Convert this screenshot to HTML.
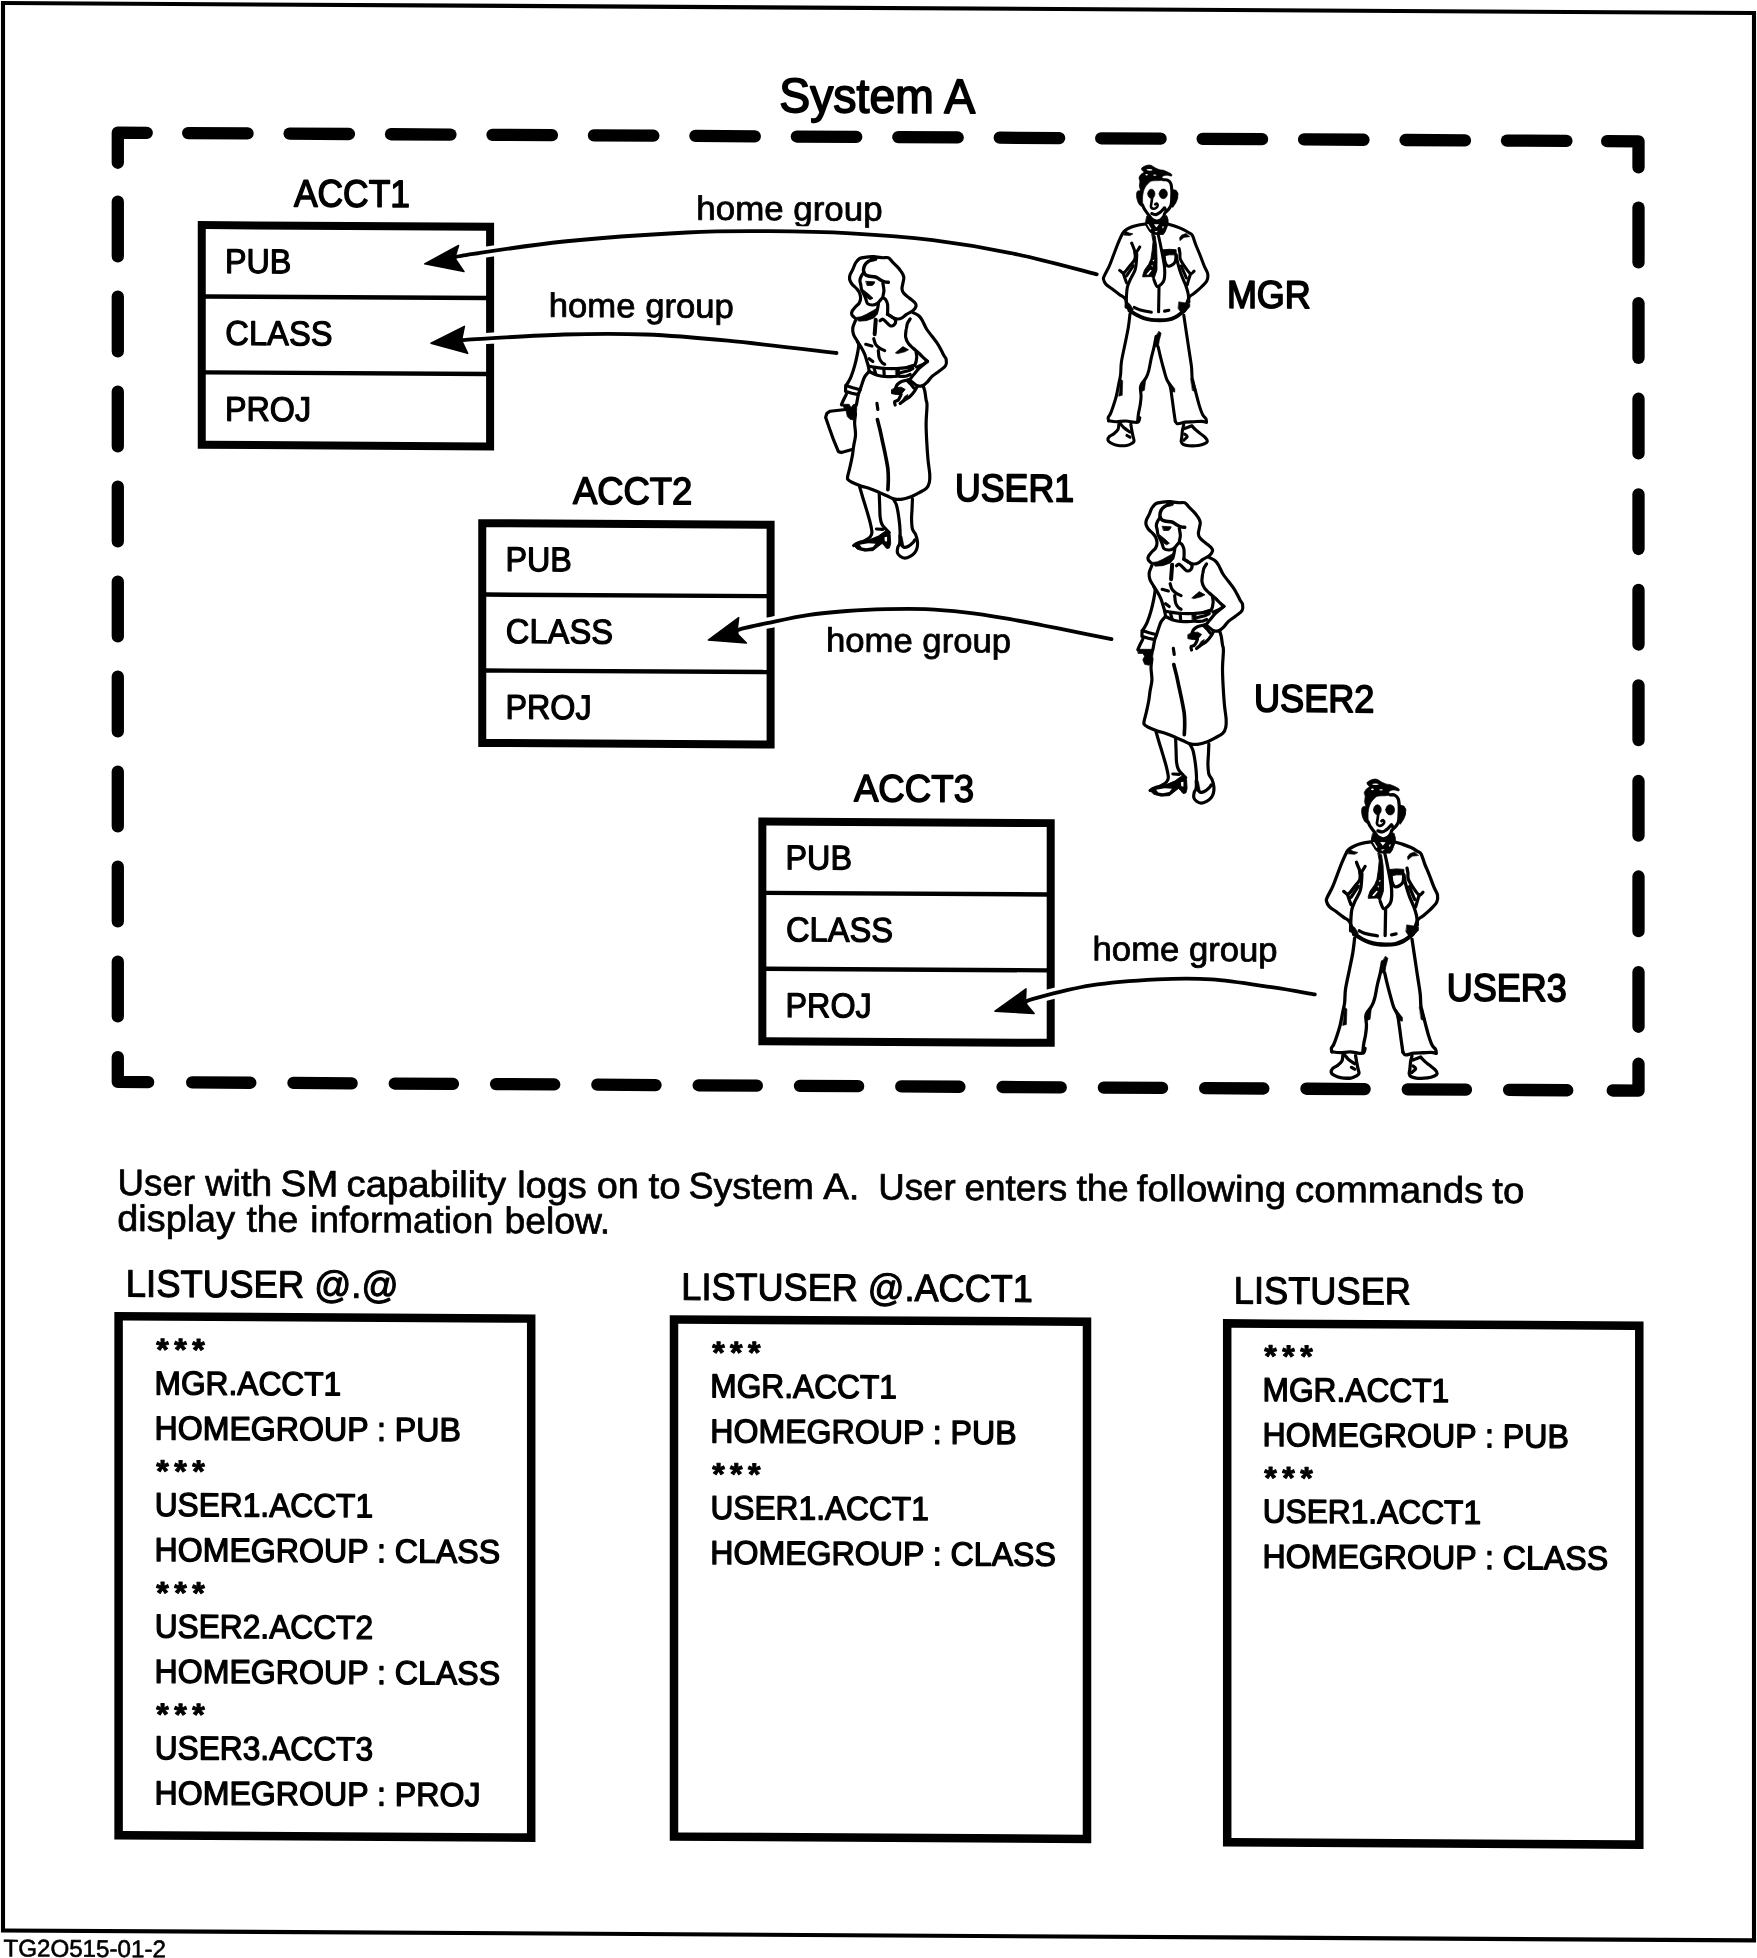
<!DOCTYPE html>
<html lang="en"><head><meta charset="utf-8"><title>System A - LISTUSER home groups</title>
<style>
html,body{margin:0;padding:0;background:#fff;}
body{width:1757px;height:1958px;overflow:hidden;}
svg{display:block;filter:grayscale(1);}
text{font-family:'Liberation Sans', sans-serif;fill:#000;stroke:#000;stroke-linejoin:round;}
</style></head><body>
<svg width="1757" height="1958" viewBox="0 0 1757 1958">
<rect width="1757" height="1958" fill="#fff"/>
<g transform="matrix(1 0.0057 0 1 0 0)">
<rect x="3" y="3" width="1751" height="1927.4" fill="none" stroke="#000" stroke-width="4.1"/>
<g stroke="#000" stroke-width="12.3" stroke-linecap="round" stroke-linejoin="round" fill="none">
<line x1="188.15" y1="132" x2="247.55" y2="132"/>
<line x1="192.15" y1="1081.3" x2="250.35" y2="1081.3"/>
<line x1="289.6" y1="132" x2="349" y2="132"/>
<line x1="293.45" y1="1081.3" x2="351.65" y2="1081.3"/>
<line x1="391.05" y1="132" x2="450.45" y2="132"/>
<line x1="394.75" y1="1081.3" x2="452.95" y2="1081.3"/>
<line x1="492.5" y1="132" x2="551.9" y2="132"/>
<line x1="496.05" y1="1081.3" x2="554.25" y2="1081.3"/>
<line x1="593.95" y1="132" x2="653.35" y2="132"/>
<line x1="597.35" y1="1081.3" x2="655.55" y2="1081.3"/>
<line x1="695.4" y1="132" x2="754.8" y2="132"/>
<line x1="698.65" y1="1081.3" x2="756.85" y2="1081.3"/>
<line x1="796.85" y1="132" x2="856.25" y2="132"/>
<line x1="799.95" y1="1081.3" x2="858.15" y2="1081.3"/>
<line x1="898.3" y1="132" x2="957.7" y2="132"/>
<line x1="901.25" y1="1081.3" x2="959.45" y2="1081.3"/>
<line x1="999.75" y1="132" x2="1059.15" y2="132"/>
<line x1="1002.55" y1="1081.3" x2="1060.75" y2="1081.3"/>
<line x1="1101.2" y1="132" x2="1160.6" y2="132"/>
<line x1="1103.85" y1="1081.3" x2="1162.05" y2="1081.3"/>
<line x1="1202.65" y1="132" x2="1262.05" y2="132"/>
<line x1="1205.15" y1="1081.3" x2="1263.35" y2="1081.3"/>
<line x1="1304.1" y1="132" x2="1363.5" y2="132"/>
<line x1="1306.45" y1="1081.3" x2="1364.65" y2="1081.3"/>
<line x1="1405.55" y1="132" x2="1464.95" y2="132"/>
<line x1="1407.75" y1="1081.3" x2="1465.95" y2="1081.3"/>
<line x1="1507" y1="132" x2="1566.4" y2="132"/>
<line x1="1509.05" y1="1081.3" x2="1567.25" y2="1081.3"/>
<line x1="117.8" y1="200.98" x2="117.8" y2="255.68"/>
<line x1="1638.5" y1="198.31" x2="1638.5" y2="253.01"/>
<line x1="117.8" y1="295.98" x2="117.8" y2="350.68"/>
<line x1="1638.5" y1="293.86" x2="1638.5" y2="348.56"/>
<line x1="117.8" y1="390.98" x2="117.8" y2="445.68"/>
<line x1="1638.5" y1="389.41" x2="1638.5" y2="444.11"/>
<line x1="117.8" y1="485.98" x2="117.8" y2="540.68"/>
<line x1="1638.5" y1="484.96" x2="1638.5" y2="539.66"/>
<line x1="117.8" y1="580.98" x2="117.8" y2="635.68"/>
<line x1="1638.5" y1="580.51" x2="1638.5" y2="635.21"/>
<line x1="117.8" y1="675.98" x2="117.8" y2="730.68"/>
<line x1="1638.5" y1="676.06" x2="1638.5" y2="730.76"/>
<line x1="117.8" y1="770.98" x2="117.8" y2="825.68"/>
<line x1="1638.5" y1="771.61" x2="1638.5" y2="826.31"/>
<line x1="117.8" y1="865.98" x2="117.8" y2="920.68"/>
<line x1="1638.5" y1="867.16" x2="1638.5" y2="921.86"/>
<line x1="117.8" y1="960.98" x2="117.8" y2="1015.68"/>
<line x1="1638.5" y1="962.71" x2="1638.5" y2="1017.41"/>
<polyline points="146.75,132 117.8,132 117.8,162.08"/>
<polyline points="1607.15,132 1638.5,132 1638.5,158.01"/>
<polyline points="148.15,1081.3 117.8,1081.3 117.8,1056.48"/>
<polyline points="1612.75,1081.3 1638.5,1081.3 1638.5,1054.41"/>
</g>
<text transform="translate(779.23 107.59) scale(0.9565 1)" font-size="48.5" stroke-width="1.7" xml:space="preserve">System A</text>
<g transform="translate(0 0)">
<rect x="201.75" y="223.95" width="288.35" height="219.7" fill="none" stroke="#000" stroke-width="8"/>
<line x1="205" y1="295.28" x2="487" y2="295.28" stroke="#000" stroke-width="4.4" stroke-linecap="butt"/>
<line x1="205" y1="371.18" x2="487" y2="371.18" stroke="#000" stroke-width="4.4" stroke-linecap="butt"/>
<text transform="translate(224.98 271.63) scale(0.9362 1)" font-size="34.5" stroke-width="1.2" xml:space="preserve">PUB</text>
<text transform="translate(225.33 343.51) scale(0.9476 1)" font-size="34.5" stroke-width="1.2" xml:space="preserve">CLASS</text>
<text transform="translate(224.98 419.37) scale(0.9363 1)" font-size="34.5" stroke-width="1.2" xml:space="preserve">PROJ</text>
<text transform="translate(293.89 204.73) scale(0.9250 1)" font-size="38.3" stroke-width="1.5" xml:space="preserve">ACCT1</text>
</g>
<g transform="translate(280.5 296.5)">
<rect x="201.75" y="223.95" width="288.35" height="219.7" fill="none" stroke="#000" stroke-width="8"/>
<line x1="205" y1="295.28" x2="487" y2="295.28" stroke="#000" stroke-width="4.4" stroke-linecap="butt"/>
<line x1="205" y1="371.18" x2="487" y2="371.18" stroke="#000" stroke-width="4.4" stroke-linecap="butt"/>
<text transform="translate(224.98 271.63) scale(0.9362 1)" font-size="34.5" stroke-width="1.2" xml:space="preserve">PUB</text>
<text transform="translate(225.33 343.51) scale(0.9476 1)" font-size="34.5" stroke-width="1.2" xml:space="preserve">CLASS</text>
<text transform="translate(224.98 419.37) scale(0.9363 1)" font-size="34.5" stroke-width="1.2" xml:space="preserve">PROJ</text>
<text transform="translate(292.41 204) scale(0.9519 1)" font-size="38.3" stroke-width="1.5" xml:space="preserve">ACCT2</text>
</g>
<g transform="translate(560.6 593.2)">
<rect x="201.75" y="223.95" width="288.35" height="219.7" fill="none" stroke="#000" stroke-width="8"/>
<line x1="205" y1="295.28" x2="487" y2="295.28" stroke="#000" stroke-width="4.4" stroke-linecap="butt"/>
<line x1="205" y1="371.18" x2="487" y2="371.18" stroke="#000" stroke-width="4.4" stroke-linecap="butt"/>
<text transform="translate(224.98 271.63) scale(0.9362 1)" font-size="34.5" stroke-width="1.2" xml:space="preserve">PUB</text>
<text transform="translate(225.33 343.51) scale(0.9476 1)" font-size="34.5" stroke-width="1.2" xml:space="preserve">CLASS</text>
<text transform="translate(224.98 419.37) scale(0.9363 1)" font-size="34.5" stroke-width="1.2" xml:space="preserve">PROJ</text>
<text transform="translate(293.32 203.19) scale(0.9569 1)" font-size="38.3" stroke-width="1.5" xml:space="preserve">ACCT3</text>
</g>
<text transform="translate(1226.91 300.66) scale(0.9272 1)" font-size="38.8" stroke-width="1.7" xml:space="preserve">MGR</text>
<text transform="translate(955.05 495.55) scale(0.9200 1)" font-size="38.8" stroke-width="1.7" xml:space="preserve">USER1</text>
<text transform="translate(1253.98 704.41) scale(0.9307 1)" font-size="38.8" stroke-width="1.7" xml:space="preserve">USER2</text>
<text transform="translate(1446.79 992.41) scale(0.9279 1)" font-size="38.8" stroke-width="1.7" xml:space="preserve">USER3</text>
<text transform="translate(696.37 215.7) scale(1.0327 1)" font-size="33.8" stroke-width="0.8" xml:space="preserve">home group</text>
<text transform="translate(548.78 313.64) scale(1.0259 1)" font-size="33.8" stroke-width="0.8" xml:space="preserve">home group</text>
<text transform="translate(825.88 646.81) scale(1.0270 1)" font-size="33.8" stroke-width="0.8" xml:space="preserve">home group</text>
<text transform="translate(1092.58 954.09) scale(1.0259 1)" font-size="33.8" stroke-width="0.8" xml:space="preserve">home group</text>
<text y="1194.4" font-size="36.8" stroke-width="0.7"><tspan x="117.6" textLength="77.45" lengthAdjust="spacingAndGlyphs">User</tspan> <tspan x="205.35" textLength="66.97" lengthAdjust="spacingAndGlyphs">with</tspan> <tspan x="280.62" textLength="57.81" lengthAdjust="spacingAndGlyphs">SM</tspan> <tspan x="346.52" textLength="159.6" lengthAdjust="spacingAndGlyphs">capability</tspan> <tspan x="517.18" textLength="69.68" lengthAdjust="spacingAndGlyphs">logs</tspan> <tspan x="596.64" textLength="42.06" lengthAdjust="spacingAndGlyphs">on</tspan> <tspan x="648.57" textLength="32.08" lengthAdjust="spacingAndGlyphs">to</tspan> <tspan x="688.46" textLength="125.4" lengthAdjust="spacingAndGlyphs">System</tspan> <tspan x="823.25" textLength="36.24" lengthAdjust="spacingAndGlyphs">A.</tspan> <tspan x="878.2" textLength="77.45" lengthAdjust="spacingAndGlyphs">User</tspan> <tspan x="964.47" textLength="102.75" lengthAdjust="spacingAndGlyphs">enters</tspan> <tspan x="1076.39" textLength="52.26" lengthAdjust="spacingAndGlyphs">the</tspan> <tspan x="1136.87" textLength="149.22" lengthAdjust="spacingAndGlyphs">following</tspan> <tspan x="1295.01" textLength="188.32" lengthAdjust="spacingAndGlyphs">commands</tspan> <tspan x="1492.37" textLength="32.08" lengthAdjust="spacingAndGlyphs">to</tspan></text>
<text y="1230.2" font-size="36.8" stroke-width="0.7"><tspan x="117.34" textLength="117.73" lengthAdjust="spacingAndGlyphs">display</tspan> <tspan x="246.39" textLength="51.95" lengthAdjust="spacingAndGlyphs">the</tspan> <tspan x="310.25" textLength="182.98" lengthAdjust="spacingAndGlyphs">information</tspan> <tspan x="504.42" textLength="105.8" lengthAdjust="spacingAndGlyphs">below.</tspan></text>
<text transform="translate(125.81 1295.87) scale(0.9553 1)" font-size="38.2" stroke-width="1.1" xml:space="preserve">LISTUSER @.@</text>
<text transform="translate(681.33 1295.9) scale(0.9450 1)" font-size="38.2" stroke-width="1.1" xml:space="preserve">LISTUSER @.ACCT1</text>
<text transform="translate(1233.82 1296.45) scale(0.9485 1)" font-size="38.2" stroke-width="1.1" xml:space="preserve">LISTUSER</text>
<rect x="118.6" y="1315.62" width="412.6" height="519" fill="none" stroke="#000" stroke-width="8.5"/>
<text transform="translate(156.33 1359.11) scale(0.7483 0.72)" font-size="43" font-weight="bold" stroke-width="1.3" letter-spacing="7.32">***</text>
<text transform="translate(154.48 1393.51) scale(0.9550 1)" font-size="33.2" stroke-width="1.3" xml:space="preserve">MGR.ACCT1</text>
<text transform="translate(154.46 1438.61) scale(0.9680 1)" font-size="33.2" stroke-width="1.3" xml:space="preserve">HOMEGROUP : PUB</text>
<text transform="translate(156.33 1480.71) scale(0.7483 0.72)" font-size="43" font-weight="bold" stroke-width="1.3" letter-spacing="7.32">***</text>
<text transform="translate(154.64 1515.11) scale(0.9550 1)" font-size="33.2" stroke-width="1.3" xml:space="preserve">USER1.ACCT1</text>
<text transform="translate(154.46 1560.21) scale(0.9680 1)" font-size="33.2" stroke-width="1.3" xml:space="preserve">HOMEGROUP : CLASS</text>
<text transform="translate(156.33 1602.31) scale(0.7483 0.72)" font-size="43" font-weight="bold" stroke-width="1.3" letter-spacing="7.32">***</text>
<text transform="translate(154.64 1636.71) scale(0.9550 1)" font-size="33.2" stroke-width="1.3" xml:space="preserve">USER2.ACCT2</text>
<text transform="translate(154.46 1681.81) scale(0.9680 1)" font-size="33.2" stroke-width="1.3" xml:space="preserve">HOMEGROUP : CLASS</text>
<text transform="translate(156.33 1723.91) scale(0.7483 0.72)" font-size="43" font-weight="bold" stroke-width="1.3" letter-spacing="7.32">***</text>
<text transform="translate(154.64 1758.31) scale(0.9550 1)" font-size="33.2" stroke-width="1.3" xml:space="preserve">USER3.ACCT3</text>
<text transform="translate(154.46 1803.41) scale(0.9680 1)" font-size="33.2" stroke-width="1.3" xml:space="preserve">HOMEGROUP : PROJ</text>
<rect x="674" y="1315.56" width="413" height="517.2" fill="none" stroke="#000" stroke-width="8.5"/>
<text transform="translate(712.13 1358.84) scale(0.7483 0.72)" font-size="43" font-weight="bold" stroke-width="1.3" letter-spacing="7.32">***</text>
<text transform="translate(710.28 1393.24) scale(0.9550 1)" font-size="33.2" stroke-width="1.3" xml:space="preserve">MGR.ACCT1</text>
<text transform="translate(710.26 1438.34) scale(0.9680 1)" font-size="33.2" stroke-width="1.3" xml:space="preserve">HOMEGROUP : PUB</text>
<text transform="translate(712.13 1480.44) scale(0.7483 0.72)" font-size="43" font-weight="bold" stroke-width="1.3" letter-spacing="7.32">***</text>
<text transform="translate(710.44 1514.84) scale(0.9550 1)" font-size="33.2" stroke-width="1.3" xml:space="preserve">USER1.ACCT1</text>
<text transform="translate(710.26 1559.94) scale(0.9680 1)" font-size="33.2" stroke-width="1.3" xml:space="preserve">HOMEGROUP : CLASS</text>
<rect x="1227.2" y="1316.4" width="412.1" height="518.9" fill="none" stroke="#000" stroke-width="8.5"/>
<text transform="translate(1264.33 1359.39) scale(0.7483 0.72)" font-size="43" font-weight="bold" stroke-width="1.3" letter-spacing="7.32">***</text>
<text transform="translate(1262.48 1393.79) scale(0.9550 1)" font-size="33.2" stroke-width="1.3" xml:space="preserve">MGR.ACCT1</text>
<text transform="translate(1262.46 1438.89) scale(0.9680 1)" font-size="33.2" stroke-width="1.3" xml:space="preserve">HOMEGROUP : PUB</text>
<text transform="translate(1264.33 1480.99) scale(0.7483 0.72)" font-size="43" font-weight="bold" stroke-width="1.3" letter-spacing="7.32">***</text>
<text transform="translate(1262.64 1515.39) scale(0.9550 1)" font-size="33.2" stroke-width="1.3" xml:space="preserve">USER1.ACCT1</text>
<text transform="translate(1262.46 1560.49) scale(0.9680 1)" font-size="33.2" stroke-width="1.3" xml:space="preserve">HOMEGROUP : CLASS</text>
<text transform="translate(3.42 1956.4) scale(0.9984 1)" font-size="24.2" stroke-width="0.6" xml:space="preserve">TG2O515-01-2</text>
<path d="M454.7 255.41 C455.83 255.04 443.3 256.02 461.5 253.17 C479.7 250.32 526.33 242.38 563.9 238.29 C601.47 234.19 652.75 230.5 686.9 228.58 C721.05 226.67 741.48 226.84 768.8 226.82 C796.12 226.8 823.47 227.11 850.8 228.45 C878.13 229.79 905.48 231.62 932.8 234.88 C960.12 238.14 987.38 242.49 1014.7 248.02 C1042.02 253.54 1083.03 264.71 1096.7 268.05" fill="none" stroke="#fff" stroke-width="11" stroke-linecap="butt"/>
<path d="M454.7 255.41 C455.83 255.04 443.3 256.02 461.5 253.17 C479.7 250.32 526.33 242.38 563.9 238.29 C601.47 234.19 652.75 230.5 686.9 228.58 C721.05 226.67 741.48 226.84 768.8 226.82 C796.12 226.8 823.47 227.11 850.8 228.45 C878.13 229.79 905.48 231.62 932.8 234.88 C960.12 238.14 987.38 242.49 1014.7 248.02 C1042.02 253.54 1083.03 264.71 1096.7 268.05" fill="none" stroke="#000" stroke-width="3.8" stroke-linecap="round"/>
<path d="M424.7 261.38 L458.6 242.89 L454.7 255.41 L464 268.96 Z" fill="#000" stroke="#000" stroke-width="1.5" stroke-linejoin="round"/>
<path d="M461.5 337.67 C462.18 337.58 448.53 338.21 465.6 337.15 C482.67 336.08 533.85 332.34 563.9 331.29 C593.95 330.23 618.57 329.94 645.9 330.82 C673.23 331.7 696.13 333.65 727.9 336.55 C759.67 339.45 818.4 346.29 836.5 348.23" fill="none" stroke="#fff" stroke-width="11" stroke-linecap="butt"/>
<path d="M461.5 337.67 C462.18 337.58 448.53 338.21 465.6 337.15 C482.67 336.08 533.85 332.34 563.9 331.29 C593.95 330.23 618.57 329.94 645.9 330.82 C673.23 331.7 696.13 333.65 727.9 336.55 C759.67 339.45 818.4 346.29 836.5 348.23" fill="none" stroke="#000" stroke-width="3.8" stroke-linecap="round"/>
<path d="M431 340.74 L464.4 323.75 L461.5 337.67 L467.7 350.73 Z" fill="#000" stroke="#000" stroke-width="1.5" stroke-linejoin="round"/>
<path d="M736.7 629 C737.2 628.36 734.4 626.95 739.7 625.18 C745 623.42 757.15 620.88 768.5 618.42 C779.85 615.95 794.7 612.44 807.8 610.4 C820.9 608.35 834 607.21 847.1 606.17 C860.2 605.13 873.32 604.52 886.4 604.15 C899.48 603.77 912.52 603.47 925.6 603.92 C938.68 604.38 951.8 605.49 964.9 606.9 C978 608.31 991.12 610.27 1004.2 612.38 C1017.28 614.48 1030.32 617.09 1043.4 619.55 C1056.48 622.01 1071.35 624.93 1082.7 627.13 C1094.05 629.33 1106.7 631.83 1111.5 632.76" fill="none" stroke="#fff" stroke-width="11" stroke-linecap="butt"/>
<path d="M736.7 629 C737.2 628.36 734.4 626.95 739.7 625.18 C745 623.42 757.15 620.88 768.5 618.42 C779.85 615.95 794.7 612.44 807.8 610.4 C820.9 608.35 834 607.21 847.1 606.17 C860.2 605.13 873.32 604.52 886.4 604.15 C899.48 603.77 912.52 603.47 925.6 603.92 C938.68 604.38 951.8 605.49 964.9 606.9 C978 608.31 991.12 610.27 1004.2 612.38 C1017.28 614.48 1030.32 617.09 1043.4 619.55 C1056.48 622.01 1071.35 624.93 1082.7 627.13 C1094.05 629.33 1106.7 631.83 1111.5 632.76" fill="none" stroke="#000" stroke-width="3.8" stroke-linecap="round"/>
<path d="M708.3 635.96 L738.7 613.49 L736.7 629 L746.4 638.65 Z" fill="#000" stroke="#000" stroke-width="1.5" stroke-linejoin="round"/>
<path d="M1025.4 997.06 C1026.82 996.33 1022.97 995.69 1033.9 992.71 C1044.83 989.73 1070.45 982.5 1091 979.18 C1111.55 975.86 1137.15 973.92 1157.2 972.8 C1177.25 971.69 1192.25 971.3 1211.3 972.5 C1230.35 973.69 1254.25 977.55 1271.5 979.95 C1288.75 982.35 1307.58 985.75 1314.8 986.91" fill="none" stroke="#fff" stroke-width="11" stroke-linecap="butt"/>
<path d="M1025.4 997.06 C1026.82 996.33 1022.97 995.69 1033.9 992.71 C1044.83 989.73 1070.45 982.5 1091 979.18 C1111.55 975.86 1137.15 973.92 1157.2 972.8 C1177.25 971.69 1192.25 971.3 1211.3 972.5 C1230.35 973.69 1254.25 977.55 1271.5 979.95 C1288.75 982.35 1307.58 985.75 1314.8 986.91" fill="none" stroke="#000" stroke-width="3.8" stroke-linecap="round"/>
<path d="M995 1005.53 L1026 983.05 L1025.4 997.06 L1034.1 1007.61 Z" fill="#000" stroke="#000" stroke-width="1.5" stroke-linejoin="round"/>
<defs><g id="man" fill="none" stroke="#000" stroke-width="36" stroke-linecap="round" stroke-linejoin="round">
<path d="M740 135 C746.67 126.67 765.83 115.83 780 110 C794.17 104.17 811.67 100 825 100 C838.33 100 847.5 104.17 860 110 C872.5 115.83 885 127.5 900 135 C915 142.5 935 150.83 950 155 C965 159.17 975 155.83 990 160 C1005 164.17 1024.17 172.5 1040 180 C1055.83 187.5 1077.5 197 1085 205 C1092.5 213 1092.5 225.83 1085 228 C1077.5 230.17 1053.33 219 1040 218 C1026.67 217 1015.83 218.33 1005 222 C994.17 225.67 977.5 231.67 975 240 C972.5 248.33 995.83 265 990 272 C984.17 279 963.33 279.33 940 282 C916.67 284.67 871.67 281.67 850 288 C828.33 294.33 822 308 810 320 C798 332 786.67 345 778 360 C769.33 375 763 391.67 758 410 C753 428.33 749.67 448.33 748 470 C746.33 491.67 747.33 521.33 748 540 C748.67 558.67 756.67 576.17 752 582 C747.33 587.83 730 583.67 720 575 C710 566.33 699.33 549.17 692 530 C684.67 510.83 677 480 676 460 C675 440 678.67 420.83 686 410 C693.33 399.17 716 405 720 395 C724 385 710.67 367.5 710 350 C709.33 332.5 716.67 306.67 716 290 C715.33 273.33 703.67 263.33 706 250 C708.33 236.67 720.67 220.83 730 210 C739.33 199.17 760.33 193.33 762 185 C763.67 176.67 743.67 168.33 740 160 C736.33 151.67 733.33 143.33 740 135 Z" fill="#000" stroke-width="8"/>
<path d="M1090 385 L1140 395 L1162 430 L1157 490 L1137 540 L1100 595 L1085 560 L1090 480 Z" fill="#000" stroke-width="10"/>
<path d="M808 437 a42 54 0 1 0 84 0 a42 54 0 1 0 -84 0 Z" fill="#000" stroke-width="8"/>
<path d="M942 437 a48 56 0 1 0 96 0 a48 56 0 1 0 -96 0 Z" fill="#000" stroke-width="8"/>
<path d="M800 700 L830 705 L860 740 L910 758 L960 742 L995 702 L1030 692 L1046 740 L1046 792 L1012 880 L990 912 L870 912 L830 880 L780 800 L786 750 Z" fill="#000" stroke-width="10"/>
<path d="M858 912 L895 930 L912 1050 L917 1200 L916 1330 L892 1400 L880 1440 L850 1405 L750 1410 L750 1390 L770 1330 L820 1260 L845 1200 L860 1100 L870 1000 Z" fill="#000" stroke-width="10"/>
<path d="M985 1092 L1060 1085 L1140 1090 L1142 1150 L1110 1150 L1060 1150 L1000 1162 L990 1130 Z" fill="#000" stroke-width="10"/>
<path d="M540 872 L590 897 L635 907 L600 927 L530 922 Z" fill="#000" stroke-width="8"/>
<path d="M1255 898 L1205 918 L1180 950 L1185 985 L1232 945 L1300 937 Z" fill="#000" stroke-width="6"/>
<path d="M1175 1700 L1300 1720 L1300 1757 L1245 1817 L1195 1819 L1165 1777 Z" fill="#000" stroke-width="8"/>
<path d="M548 1700 L600 1730 L640 1797 L600 1819 L560 1777 Z" fill="#000" stroke-width="8"/>
<path d="M940 2047 L965 2067 L942 2157 L932 2227 L897 2227 L902 2107 Z" fill="#000" stroke-width="8"/>
<path d="M490 2607 L515 2627 L510 2797 L470 2807 Z" fill="#000" stroke-width="6"/>
<path d="M790 2587 L722 2697 L726 2757 L770 2737 L782 2637 Z" fill="#000" stroke-width="6"/>
<path d="M1040 2607 L1125 2717 L1125 2757 L1080 2747 Z" fill="#000" stroke-width="6"/>
<path d="M1312 2597 L1346 2607 L1382 2757 L1332 2737 Z" fill="#000" stroke-width="6"/>
<path d="M792 157 a36 9 0 1 0 72 0 a36 9 0 1 0 -72 0 Z" fill="#fff" stroke="none"/>
<path d="M780 214 a15 9 0 1 0 30 0 a15 9 0 1 0 -30 0 Z" fill="#fff" stroke="none"/>
<path d="M870 217 a20 7 0 1 0 40 0 a20 7 0 1 0 -40 0 Z" fill="#fff" stroke="none"/>
<path d="M800 792 L815 790 L852 848 L838 856 Z" fill="#fff" stroke="none"/>
<path d="M880 792 L940 792 L910 832 Z" fill="#fff" stroke="none"/>
<path d="M975 822 L1000 815 L985 845 Z" fill="#fff" stroke="none"/>
<path d="M888 876 L930 868 L905 888 Z" fill="#fff" stroke="none"/>
<path d="M862 1218 L885 1205 L880 1230 Z" fill="#fff" stroke="none"/>
<path d="M792 1378 L840 1325 L855 1335 L812 1388 Z" fill="#fff" stroke="none"/>
<path d="M850 1275 L866 1268 L862 1295 Z" fill="#fff" stroke="none"/>
<path d="M990 272 C998.33 272.5 1025.33 267.83 1040 275 C1054.67 282.17 1069.67 294.17 1078 315 C1086.33 335.83 1088.33 369.17 1090 400 C1091.67 430.83 1089.67 471.67 1088 500 C1086.33 528.33 1086.33 550 1080 570 C1073.67 590 1061.67 605 1050 620 C1038.33 635 1019.17 646.67 1010 660 C1000.83 673.33 1003.33 686.67 995 700 C986.67 713.33 974.17 730.83 960 740 C945.83 749.17 926.67 755.83 910 755 C893.33 754.17 873.33 744.17 860 735 C846.67 725.83 840 712.5 830 700 C820 687.5 810.83 675 800 660 C789.17 645 773.67 625 765 610 C756.33 595 750.83 576.67 748 570"/>
<path d="M860 480 C858.67 490 854.33 521.67 852 540 C849.67 558.33 843 578 846 590 C849 602 860.17 610 870 612 C879.83 614 895.83 608.17 905 602 C914.17 595.83 923.83 583.67 925 575 C926.17 566.33 917 552.5 912 550 C907 547.5 897.83 558.33 895 560" stroke-width="30"/>
<path d="M855 668 C863.33 670 889.17 682.17 905 680 C920.83 677.83 936.67 664.67 950 655 C963.33 645.33 975.83 631.17 985 622 C994.17 612.83 999.67 600 1005 600 C1010.33 600 1015 618.33 1017 622"/>
<path d="M775 790 C760.83 792.5 717.5 798.33 690 805 C662.5 811.67 635 819.17 610 830 C585 840.83 556.67 856.67 540 870 C523.33 883.33 523.33 885 510 910 C496.67 935 476.67 980 460 1020 C443.33 1060 426.67 1106.67 410 1150 C393.33 1193.33 378.33 1238.33 360 1280 C341.67 1321.67 311.67 1373.33 300 1400 C288.33 1426.67 286.67 1423.33 290 1440 C293.33 1456.67 301.67 1480 320 1500 C338.33 1520 373.33 1540 400 1560 C426.67 1580 455.83 1601.67 480 1620 C504.17 1638.33 526.67 1638.83 545 1670 C563.33 1701.17 582.5 1784.17 590 1807"/>
<path d="M1045 790 C1059.17 794.17 1100.83 805 1130 815 C1159.17 825 1193.33 837.5 1220 850 C1246.67 862.5 1271.67 878.33 1290 890 C1308.33 901.67 1316.67 896.67 1330 920 C1343.33 943.33 1355 991.67 1370 1030 C1385 1068.33 1403.33 1108.33 1420 1150 C1436.67 1191.67 1455 1243.33 1470 1280 C1485 1316.67 1505 1341.67 1510 1370 C1515 1398.33 1513.33 1423.33 1500 1450 C1486.67 1476.67 1455 1505 1430 1530 C1405 1555 1373.33 1580 1350 1600 C1326.67 1620 1308.33 1617.17 1290 1650 C1271.67 1682.83 1248.33 1772.5 1240 1797"/>
<path d="M620 1015 C623.67 1024.17 636.17 1054.17 642 1070 C647.83 1085.83 652.33 1088.33 655 1110 C657.67 1131.67 667.17 1171.67 658 1200 C648.83 1228.33 618.83 1255 600 1280 C581.17 1305 558.33 1335.83 545 1350 C531.67 1364.17 530.83 1367.5 520 1365 C509.17 1362.5 486.67 1340 480 1335"/>
<path d="M715 1060 C709.17 1069.17 689.17 1103.33 680 1115 C670.83 1126.67 663.33 1127.5 660 1130"/>
<path d="M520 1365 C524.17 1377.5 538.33 1420.83 545 1440 C551.67 1459.17 557.5 1473.33 560 1480"/>
<path d="M680 1140 C679.17 1155 678.33 1198.33 675 1230 C671.67 1261.67 672.5 1293.33 660 1330 C647.5 1366.67 615 1416.67 600 1450 C585 1483.33 576.67 1501.67 570 1530 C563.33 1558.33 562.5 1580.5 560 1620 C557.5 1659.5 555.83 1742.5 555 1767"/>
<path d="M640 1280 L560 1400"/>
<path d="M1175 1075 C1176.67 1084.17 1182.5 1109.17 1185 1130 C1187.5 1150.83 1179.17 1171.67 1190 1200 C1200.83 1228.33 1230 1271.67 1250 1300 C1270 1328.33 1293.33 1363.33 1310 1370 C1326.67 1376.67 1343.33 1345 1350 1340"/>
<path d="M1310 1370 C1306.67 1380 1296.67 1408.33 1290 1430 C1283.33 1451.67 1273.33 1488.33 1270 1500"/>
<path d="M1140 1150 C1143.33 1166.67 1150 1211.67 1160 1250 C1170 1288.33 1185 1338.33 1200 1380 C1215 1421.67 1236.67 1463.33 1250 1500 C1263.33 1536.67 1273.33 1566.67 1280 1600 C1286.67 1633.33 1288.33 1683.33 1290 1700"/>
<path d="M1200 1280 L1260 1420"/>
<path d="M1000 1160 C1001.67 1171.67 1003.33 1210 1010 1230 C1016.67 1250 1026.67 1273.33 1040 1280 C1053.33 1286.67 1075 1278.33 1090 1270 C1105 1261.67 1121.67 1250 1130 1230 C1138.33 1210 1138.33 1163.33 1140 1150"/>
<path d="M930 912 C933.33 926.67 941.67 960.33 950 1000 C958.33 1039.67 970.83 1100 980 1150 C989.17 1200 1001.67 1251.67 1005 1300 C1008.33 1348.33 1007.5 1406.67 1000 1440 C992.5 1473.33 974.17 1486.67 960 1500 C945.83 1513.33 928.33 1530 915 1520 C901.67 1510 885.83 1453.33 880 1440"/>
<path d="M940 1530 L935 1817"/>
<path d="M600 1807 C613.33 1815.33 653.33 1842.83 680 1857 C706.67 1871.17 731.67 1882.83 760 1892 C788.33 1901.17 818.33 1907.83 850 1912 C881.67 1916.17 916.67 1917.5 950 1917 C983.33 1916.5 1020 1915.33 1050 1909 C1080 1902.67 1106.67 1890.67 1130 1879 C1153.33 1867.33 1171.67 1852.67 1190 1839 C1208.33 1825.33 1231.67 1804 1240 1797" stroke-width="46"/>
<path d="M650 1767 C661.67 1772 686.67 1787.83 720 1797 C753.33 1806.17 828.33 1817.83 850 1822"/>
<path d="M1005 1809 L1055 1799"/>
<path d="M600 1847 C596.67 1873.67 590 1947 580 2007 C570 2067 553.33 2140.33 540 2207 C526.67 2273.67 508.33 2348.67 500 2407 C491.67 2465.33 495 2515.33 490 2557 C485 2598.67 478.33 2615.33 470 2657 C461.67 2698.67 451.67 2760.33 440 2807 C428.33 2853.67 411.67 2902 400 2937 C388.33 2972 379.17 2997 370 3017 C360.83 3037 348.33 3043.67 345 3057 C341.67 3070.33 349.17 3090.33 350 3097"/>
<path d="M350 3097 C365 3098.67 406.67 3107 440 3107 C473.33 3107 515 3096.17 550 3097 C585 3097.83 625 3110.33 650 3112 C675 3113.67 689.17 3116.17 700 3107 C710.83 3097.83 712.5 3065.33 715 3057"/>
<path d="M905 2107 C900.83 2128.67 889.17 2195.33 880 2237 C870.83 2278.67 860 2312 850 2357 C840 2402 830 2468.67 820 2507 C810 2545.33 803.33 2562 790 2587 C776.67 2612 751.33 2637 740 2657 C728.67 2677 723.67 2682 722 2707 C720.33 2732 730.33 2773.67 730 2807 C729.67 2840.33 725 2873.67 720 2907 C715 2940.33 705 2975.33 700 3007 C695 3038.67 691.67 3082 690 3097"/>
<path d="M930 2227 C935 2248.67 948.33 2310.33 960 2357 C971.67 2403.67 988.33 2465.33 1000 2507 C1011.67 2548.67 1018.33 2577 1030 2607 C1041.67 2637 1060 2653.67 1070 2687 C1080 2720.33 1083.33 2762 1090 2807 C1096.67 2852 1103.33 2908.67 1110 2957 C1116.67 3005.33 1126.67 3073.67 1130 3097"/>
<path d="M1230 1857 C1235 1890.33 1250 1990.33 1260 2057 C1270 2123.67 1280 2190.33 1290 2257 C1300 2323.67 1313.33 2398.67 1320 2457 C1326.67 2515.33 1321.67 2557 1330 2607 C1338.33 2657 1356.67 2707 1370 2757 C1383.33 2807 1396.67 2863.67 1410 2907 C1423.33 2950.33 1436.67 2990.33 1450 3017 C1463.33 3043.67 1482.5 3052 1490 3067 C1497.5 3082 1494.17 3100.33 1495 3107"/>
<path d="M1130 3097 C1135 3102 1140 3125.33 1160 3127 C1180 3128.67 1218.33 3111.17 1250 3107 C1281.67 3102.83 1318.33 3103.67 1350 3102 C1381.67 3100.33 1415.83 3096.17 1440 3097 C1464.17 3097.83 1485.83 3105.33 1495 3107"/>
<path d="M470 3137 C468.33 3147 469.67 3178.67 460 3197 C450.33 3215.33 428.67 3233.33 412 3247 C395.33 3260.67 371.67 3266.5 360 3279 C348.33 3291.5 340 3309.67 342 3322 C344 3334.33 354.83 3343.17 372 3353 C389.17 3362.83 413.67 3375.83 445 3381 C476.33 3386.17 530 3388 560 3384 C590 3380 610.33 3365.67 625 3357 C639.67 3348.33 646.17 3345.33 648 3332 C649.83 3318.67 640.67 3299.5 636 3277 C631.33 3254.5 624.33 3220.33 620 3197 C615.67 3173.67 611.67 3147 610 3137"/>
<path d="M490 3132 C496.67 3139.5 511.67 3161.17 530 3177 C548.33 3192.83 588.33 3218.67 600 3227"/>
<path d="M565 3267 L600 3287"/>
<path d="M1230 3137 C1227.5 3147 1218.83 3173.67 1215 3197 C1211.17 3220.33 1209.5 3254 1207 3277 C1204.5 3300 1197.5 3320 1200 3335 C1202.5 3350 1207 3359 1222 3367 C1237 3375 1260.33 3381 1290 3383 C1319.67 3385 1369.17 3383.33 1400 3379 C1430.83 3374.67 1457.33 3365.33 1475 3357 C1492.67 3348.67 1504.83 3340.67 1506 3329 C1507.17 3317.33 1496.33 3302.33 1482 3287 C1467.67 3271.67 1438.67 3252 1420 3237 C1401.33 3222 1385 3210.33 1370 3197 C1355 3183.67 1336.67 3163.67 1330 3157"/>
<path d="M1240 3182 L1325 3149"/>
<path d="M1240 3247 C1245 3252 1271.67 3265.33 1270 3277 C1268.33 3288.67 1236.67 3310.33 1230 3317"/>
</g><g id="woman" fill="none" stroke="#000" stroke-width="35" stroke-linecap="round" stroke-linejoin="round">
<path d="M660 150 a40 28 0 1 0 80 0 a40 28 0 1 0 -80 0 Z" fill="#000" stroke-width="6"/>
<path d="M615 400 L712 405 L702 430 L682 446 L630 446 Z" fill="#000" stroke-width="8"/>
<path d="M590 498 L640 538 L692 586 L662 602 L640 592 L608 560 Z" fill="#000" stroke-width="8"/>
<path d="M490 800 L560 790 L620 762 L690 722 L742 692 L738 760 L702 802 L620 832 L540 838 Z" fill="#000" stroke-width="8"/>
<path d="M940 1182 L1020 1115 L1082 1150 L1040 1172 L962 1192 Z" fill="#000" stroke-width="8"/>
<path d="M940 1568 L1000 1560 L1045 1585 L1000 1640 L955 1642 L895 1632 L895 1592 Z" fill="#000" stroke-width="10"/>
<path d="M1040 1662 L1075 1640 L1060 1690 L1010 1720 Z" fill="#000" stroke-width="8"/>
<path d="M938 1358 L985 1358 L990 1442 L945 1442 Z" fill="#000" stroke-width="6"/>
<path d="M975 3187 L1010 3197 L1032 3307 L985 3287 Z" fill="#000" stroke-width="6"/>
<path d="M650 3239 L750 3197 L820 3147 L850 3137 L880 3177 L886 3277 L872 3327 L842 3333 L812 3297 L792 3277 L742 3317 L692 3357 L600 3363 L520 3343 L480 3303 L520 3277 L600 3249 Z" fill="#000" stroke-width="10"/>
<path d="M545 3292 L640 3277 L720 3282 L690 3317 L620 3332 L570 3322 Z" fill="#fff" stroke="none"/>
<path d="M818 3209 L846 3205 L846 3257 L822 3252 Z" fill="#fff" stroke="none"/>
<path d="M852 792 L900 838 L880 860 L846 815 Z" fill="#fff" stroke="none"/>
<path d="M700 128 C686.67 129.17 645.83 131.33 620 135 C594.17 138.67 565 139.17 545 150 C525 160.83 512.5 180 500 200 C487.5 220 480 248.33 470 270 C460 291.67 445.83 311.67 440 330 C434.17 348.33 431.67 363.33 435 380 C438.33 396.67 447.5 413.33 460 430 C472.5 446.67 496.67 465 510 480 C523.33 495 532.33 503.33 540 520 C547.67 536.67 556 560 556 580 C556 600 549.33 623.33 540 640 C530.67 656.67 513 665 500 680 C487 695 468.67 715 462 730 C455.33 745 455.33 758.33 460 770 C464.67 781.67 485 795 490 800"/>
<path d="M700 128 C715 130 763.33 138 790 140 C816.67 142 841.67 133.33 860 140 C878.33 146.67 883.33 163.33 900 180 C916.67 196.67 943.33 221.67 960 240 C976.67 258.33 988.33 271.67 1000 290 C1011.67 308.33 1026.67 328.33 1030 350 C1033.33 371.67 1023.33 398.33 1020 420 C1016.67 441.67 1008.33 461.67 1010 480 C1011.67 498.33 1016.67 513.33 1030 530 C1043.33 546.67 1070 563.33 1090 580 C1110 596.67 1137.5 615 1150 630 C1162.5 645 1168.33 655 1165 670 C1161.67 685 1147.5 705 1130 720 C1112.5 735 1080 746.67 1060 760 C1040 773.33 1026.67 791.33 1010 800 C993.33 808.67 978.33 813.33 960 812 C941.67 810.67 918.33 800.67 900 792 C881.67 783.33 858.33 765.33 850 760"/>
<path d="M690 165 C681.67 167.83 654.67 172.5 640 182 C625.33 191.5 610.83 205.67 602 222 C593.17 238.33 587 263.33 587 280 C587 296.67 593.17 311.67 602 322 C610.83 332.33 620.33 337 640 342 C659.67 347 698.33 345.33 720 352 C741.67 358.67 753.33 373 770 382 C786.67 391 805 401.33 820 406 C835 410.67 853.33 409.33 860 410" stroke-width="38"/>
<path d="M592 300 C587 307.5 569.33 330 562 345 C554.67 360 548.67 374.17 548 390 C547.33 405.83 555 423.33 558 440 C561 456.67 560.67 473.33 566 490 C571.33 506.67 582.33 523.33 590 540 C597.67 556.67 605 572.5 612 590 C619 607.5 619 633.33 632 645 C645 656.67 671.67 660.83 690 660 C708.33 659.17 725.33 652.5 742 640 C758.67 627.5 782 594.17 790 585"/>
<path d="M800 420 C802 433.33 811.67 474.67 812 500 C812.33 525.33 798.67 555 802 572 C805.33 589 823.67 588.17 832 602 C840.33 615.83 848.67 628.67 852 655 C855.33 681.33 852 742.5 852 760"/>
<path d="M752 642 C750.33 651.67 745.67 682.83 742 700 C738.33 717.17 732 737.5 730 745"/>
<path d="M850 760 C858.33 765 885 778.33 900 790 C915 801.67 936.67 815 940 830 C943.33 845 930 870.67 920 880 C910 889.33 893.33 891 880 886 C866.67 881 853.33 861.83 840 850 C826.67 838.17 811.67 818 800 815 C788.33 812 775 829.17 770 832"/>
<path d="M500 830 C495 843.33 473.67 884.17 470 910 C466.33 935.83 469.67 960 478 985 C486.33 1010 510.5 1040.83 520 1060 C529.5 1079.17 535 1076.67 535 1100 C535 1123.33 527.5 1161.67 520 1200 C512.5 1238.33 501.67 1288.33 490 1330 C478.33 1371.67 464.17 1415.83 450 1450 C435.83 1484.17 412.5 1520.83 405 1535"/>
<path d="M520 1060 C527.5 1071.67 551.67 1106.67 565 1130 C578.33 1153.33 590.5 1176.67 600 1200 C609.5 1223.33 615.33 1248.33 622 1270 C628.67 1291.67 635.33 1310 640 1330 C644.67 1350 648.33 1380 650 1390"/>
<path d="M650 1390 C641.67 1400 613.33 1426.67 600 1450 C586.67 1473.33 578.67 1505.33 570 1530 C561.33 1554.67 551.67 1586.67 548 1598"/>
<path d="M405 1535 L392 1545 L470 1570 L550 1592 L530 1645 L460 1630 L390 1610 L392 1545"/>
<path d="M400 1640 C395 1650 379.17 1680.5 370 1700 C360.83 1719.5 349.17 1747.5 345 1757"/>
<path d="M530 1645 L510 1757"/>
<path d="M722 822 L716 900 L710 980" stroke-width="44"/>
<path d="M700 1030 C703.33 1040 710 1073.33 720 1090 C730 1106.67 743.33 1118.33 760 1130 C776.67 1141.67 810 1155 820 1160"/>
<path d="M750 1160 C751.67 1173.33 753.33 1218.33 760 1240 C766.67 1261.67 780 1278.33 790 1290 C800 1301.67 815 1306.67 820 1310"/>
<path d="M612 1092 L680 1110"/>
<path d="M650 1250 L690 1280"/>
<path d="M1130 740 C1141.67 746.67 1181.67 763.33 1200 780 C1218.33 796.67 1226.67 816.67 1240 840 C1253.33 863.33 1263.33 893.33 1280 920 C1296.67 946.67 1320 973.33 1340 1000 C1360 1026.67 1383.33 1055 1400 1080 C1416.67 1105 1428.33 1128.33 1440 1150 C1451.67 1171.67 1460.83 1193.33 1470 1210 C1479.17 1226.67 1491.67 1231.67 1495 1250 C1498.33 1268.33 1502.5 1298.33 1490 1320 C1477.5 1341.67 1445 1360 1420 1380 C1395 1400 1361.67 1420 1340 1440 C1318.33 1460 1306.67 1483.33 1290 1500 C1273.33 1516.67 1258.33 1532.5 1240 1540 C1221.67 1547.5 1200 1551.67 1180 1545 C1160 1538.33 1136.67 1510.83 1120 1500 C1103.33 1489.17 1086.67 1483.33 1080 1480"/>
<path d="M1100 810 C1095 818.33 1076.67 843.33 1070 860 C1063.33 876.67 1061.67 901.67 1060 910"/>
<path d="M1055 930 C1054.17 943.33 1045.83 985 1050 1010 C1054.17 1035 1066.67 1060 1080 1080 C1093.33 1100 1110 1111.67 1130 1130 C1150 1148.33 1180 1171.67 1200 1190 C1220 1208.33 1235 1225.83 1250 1240 C1265 1254.17 1283.33 1269.17 1290 1275"/>
<path d="M1290 1275 L1240 1310 L1170 1340"/>
<path d="M1165 1175 C1166.17 1184.17 1173.67 1207.5 1172 1230 C1170.33 1252.5 1161.67 1294.17 1155 1310 C1148.33 1325.83 1144.17 1319.67 1132 1325 C1119.83 1330.33 1090.33 1339.17 1082 1342"/>
<path d="M1290 1275 C1275 1287.5 1225 1325.83 1200 1350 C1175 1374.17 1156.67 1400 1140 1420 C1123.33 1440 1106.67 1461.67 1100 1470"/>
<path d="M640 1330 C653.33 1332.5 688.33 1340.67 720 1345 C751.67 1349.33 791.67 1354.17 830 1356 C868.33 1357.83 911.67 1357.83 950 1356 C988.33 1354.17 1028.33 1351 1060 1345 C1091.67 1339 1126.67 1324.17 1140 1320"/>
<path d="M650 1390 C665 1396.67 706.67 1420.67 740 1430 C773.33 1439.33 813.33 1444.17 850 1446 C886.67 1447.83 926.67 1442 960 1441 C993.33 1440 1026.67 1443.5 1050 1440 C1073.33 1436.5 1091.67 1423.33 1100 1420"/>
<path d="M702 1345 L722 1422"/>
<path d="M810 1356 L816 1442"/>
<path d="M1000 1400 L1080 1380 L1130 1355"/>
<path d="M1080 1480 C1066.67 1483.33 1020 1491.67 1000 1500 C980 1508.33 970 1518.33 960 1530 C950 1541.67 943.33 1563.33 940 1570"/>
<path d="M1000 1640 C995 1650 981.67 1686.67 970 1700 C958.33 1713.33 935.83 1710.5 930 1720 C924.17 1729.5 934.17 1750.83 935 1757"/>
<path d="M1180 1545 C1175 1554.17 1163.33 1580.83 1150 1600 C1136.67 1619.17 1118.33 1643.33 1100 1660 C1081.67 1676.67 1058.33 1686.67 1040 1700 C1021.67 1713.33 998.33 1733.33 990 1740"/>
<path d="M1070 1490 C1076.67 1496.67 1098.33 1516.67 1110 1530 C1121.67 1543.33 1135 1563.33 1140 1570"/>
<path d="M1240 1540 C1243.33 1550 1254.17 1573.33 1260 1600 C1265.83 1626.67 1270.83 1673.83 1275 1700 C1279.17 1726.17 1285 1714.17 1285 1757 C1285 1799.83 1275.5 1890.33 1275 1957 C1274.5 2023.67 1278.5 2090.33 1282 2157 C1285.5 2223.67 1290.5 2297 1296 2357 C1301.5 2417 1312.67 2475.33 1315 2517 C1317.33 2558.67 1315.83 2582 1310 2607 C1304.17 2632 1298.33 2648.67 1280 2667 C1261.67 2685.33 1230 2700.33 1200 2717 C1170 2733.67 1133.33 2754.5 1100 2767 C1066.67 2779.5 1030 2788.67 1000 2792 C970 2795.33 945 2792.83 920 2787 C895 2781.17 876.67 2768.67 850 2757 C823.33 2745.33 791.67 2730.33 760 2717 C728.33 2703.67 693.33 2688.67 660 2677 C626.67 2665.33 593.33 2658.67 560 2647 C526.67 2635.33 484.17 2618.67 460 2607 C435.83 2595.33 422.5 2588.67 415 2577 C407.5 2565.33 410.83 2560.33 415 2537 C419.17 2513.67 431.67 2473.67 440 2437 C448.33 2400.33 458.33 2355.33 465 2317 C471.67 2278.67 474.17 2245.33 480 2207 C485.83 2168.67 498.33 2128.67 500 2087 C501.67 2045.33 490 1995.33 490 1957 C490 1918.67 498.33 1873.67 500 1857"/>
<path d="M735 1740 L745 1807"/>
<path d="M740 1917 C745 1937 760 1993.67 770 2037 C780 2080.33 790 2130.33 800 2177 C810 2223.67 820.83 2270.33 830 2317 C839.17 2363.67 850 2413.67 855 2457 C860 2500.33 860 2538.67 860 2577 C860 2615.33 855.83 2668.67 855 2687" stroke-width="40"/>
<path d="M545 2657 C550.83 2677 567.5 2735.33 580 2777 C592.5 2818.67 606.67 2862 620 2907 C633.33 2952 650 3005.33 660 3047 C670 3088.67 680 3130.33 680 3157 C680 3183.67 673.33 3192 660 3207 C646.67 3222 623.33 3235.33 600 3247 C576.67 3258.67 540 3267.83 520 3277 C500 3286.17 486.67 3297.83 480 3302"/>
<path d="M760 2727 C760.83 2748.67 763.33 2813.67 765 2857 C766.67 2900.33 765.83 2952 770 2987 C774.17 3022 780 3045.33 790 3067 C800 3088.67 816.67 3102 830 3117 C843.33 3132 863.33 3150.33 870 3157"/>
<path d="M730 3119 L800 3123"/>
<path d="M920 2797 C925 2807 941.67 2830.33 950 2857 C958.33 2883.67 964.17 2920.33 970 2957 C975.83 2993.67 981.67 3038.67 985 3077 C988.33 3115.33 990 3153.67 990 3187 C990 3220.33 989.17 3255.33 985 3277 C980.83 3298.67 969.17 3300.33 965 3317 C960.83 3333.67 955.83 3360.33 960 3377 C964.17 3393.67 976.67 3407 990 3417 C1003.33 3427 1021.67 3437 1040 3437 C1058.33 3437 1081.67 3427 1100 3417 C1118.33 3407 1137.5 3392 1150 3377 C1162.5 3362 1170 3347 1175 3327 C1180 3307 1182.5 3282 1180 3257 C1177.5 3232 1169.17 3200.33 1160 3177 C1150.83 3153.67 1132.5 3145.33 1125 3117 C1117.5 3088.67 1115.83 3042 1115 3007 C1114.17 2972 1118.33 2943.67 1120 2907 C1121.67 2870.33 1124.17 2807 1125 2787"/>
<path d="M990 3277 C996.67 3283.67 1015 3312 1030 3317 C1045 3322 1063.33 3315.33 1080 3307 C1096.67 3298.67 1118.33 3278.67 1130 3267 C1141.67 3255.33 1146.67 3242 1150 3237"/>
</g><g id="w1x" fill="none" stroke="#000" stroke-width="35" stroke-linecap="round" stroke-linejoin="round">
<path d="M345 1752 L430 1752 L450 1787 L480 1752 L515 1752 L510 1857 L490 1927 L440 1917 L410 1887 L395 1817 Z" fill="#000" stroke-width="8"/>
<path d="M392 1809 L222 1829 L185 1852 L172 1897 L210 2007 L260 2147 L312 2272 L345 2282 L462 2247"/>
</g><g id="w2x" fill="none" stroke="#000" stroke-width="35" stroke-linecap="round" stroke-linejoin="round">
<path d="M350 1752 L520 1752 L510 1817 L505 1877 L470 1927 L420 1917 L400 1867 L420 1827 L400 1797 L350 1797 Z" fill="#000" stroke-width="8"/>
</g></defs>
<use href="#man" transform="translate(1300 762.13) scale(0.09107)"/>
<use href="#man" transform="translate(1078.7 149.92) scale(0.08544)"/>
<use href="#woman" transform="translate(810 239.93) scale(0.09107)"/>
<use href="#w1x" transform="translate(810 239.93) scale(0.09107)"/>
<use href="#woman" transform="translate(1106.4 483.24) scale(0.09107)"/>
<use href="#w2x" transform="translate(1106.4 483.24) scale(0.09107)"/>
</g>
</svg>
</body></html>
